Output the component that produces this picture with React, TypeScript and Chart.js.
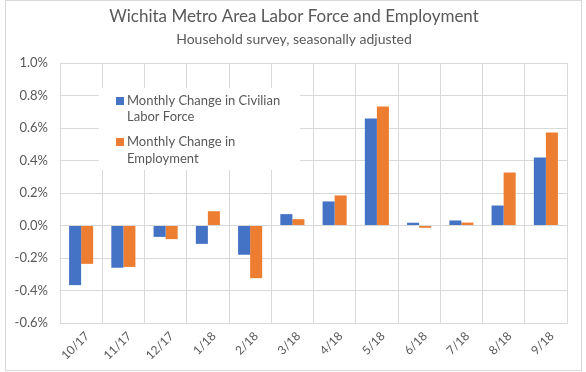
import React, { useEffect, useRef } from "react";
import { Chart, registerables } from "chart.js";

Chart.register(...registerables);

const categories = ["10/17", "11/17", "12/17", "1/18", "2/18", "3/18", "4/18", "5/18", "6/18", "7/18", "8/18", "9/18"];
const laborForceChange = [-0.367, -0.26, -0.07, -0.113, -0.18, 0.07, 0.148, 0.658, 0.017, 0.031, 0.123, 0.418];
const employmentChange = [-0.236, -0.255, -0.084, 0.088, -0.324, 0.039, 0.185, 0.732, -0.014, 0.018, 0.326, 0.572];
const yMin = -0.6;
const yMax = 1.0;
const yStep = 0.2;
const titleText = "Wichita Metro Area Labor Force and Employment";
const subtitleText = "Household survey, seasonally adjusted";
const seriesNames = ["Monthly Change in Civilian Labor Force", "Monthly Change in Employment"];
const legendLines = [["Monthly Change in Civilian", "Labor Force"], ["Monthly Change in", "Employment"]];

const BLUE = "#4472C4";
const ORANGE = "#ED7D31";
const GRID = "#D9D9D9";
const TEXT = "#595959";
const FONT = "Lato, 'Liberation Sans', sans-serif";

const decorPlugin = {
  id: "decor",
  afterDatasetsDraw(chart: any) {
    const ctx = chart.ctx;
    ctx.save();
    // legend box inside plot area
    ctx.fillStyle = "#ffffff";
    ctx.fillRect(99, 88, 201, 82);
    const colors = [BLUE, ORANGE];
    const rowsY = [[101, 117], [142, 159]];
    ctx.font = `13px ${FONT}`;
    ctx.textBaseline = "middle";
    ctx.textAlign = "left";
    legendLines.forEach((lines, i) => {
      ctx.fillStyle = colors[i];
      ctx.fillRect(116, rowsY[i][0] - 4, 8, 8);
      ctx.fillStyle = TEXT;
      lines.forEach((ln, j) => {
        ctx.fillText(ln, 127, rowsY[i][j]);
      });
    });
    ctx.restore();
  },
  afterDraw(chart: any) {
    const ctx = chart.ctx;
    ctx.save();
    ctx.fillStyle = TEXT;
    ctx.textAlign = "center";
    ctx.textBaseline = "middle";
    ctx.font = `17px ${FONT}`;
    ctx.fillText(titleText, 294, 17);
    ctx.font = `14px ${FONT}`;
    ctx.fillText(subtitleText, 294, 39);
    // outer frame
    ctx.strokeStyle = GRID;
    ctx.lineWidth = 1;
    ctx.strokeRect(5.5, 0.5, 576, 370);
    ctx.restore();
  },
};

export default function App() {
  const ref = useRef<HTMLCanvasElement | null>(null);

  useEffect(() => {
    if (!ref.current) return;
    const chart = new Chart(ref.current, {
      type: "bar",
      data: {
        labels: categories,
        datasets: [
          {
            label: seriesNames[0],
            data: laborForceChange,
            backgroundColor: BLUE,
            borderWidth: 0,
            barPercentage: 1,
            categoryPercentage: 0.57,
          },
          {
            label: seriesNames[1],
            data: employmentChange,
            backgroundColor: ORANGE,
            borderWidth: 0,
            barPercentage: 1,
            categoryPercentage: 0.57,
          },
        ],
      },
      options: {
        responsive: false,
        animation: false,
        devicePixelRatio: 1,
        layout: { padding: { left: 5, right: 19, top: 63, bottom: 0 } },
        plugins: {
          legend: { display: false },
          title: { display: false },
          tooltip: { enabled: false },
        },
        scales: {
          x: {
            grid: { color: GRID, drawTicks: false, offset: true },
            border: { color: GRID },
            ticks: {
              color: TEXT,
              font: { family: FONT, size: 12 },
              maxRotation: 45,
              minRotation: 45,
              padding: 6,
              labelOffset: 6,
            },
            afterFit: (s: any) => {
              s.height = 49;
            },
          },
          y: {
            min: yMin,
            max: yMax,
            grid: { color: GRID, drawTicks: false },
            border: { display: false },
            ticks: {
              stepSize: yStep,
              color: TEXT,
              font: { family: FONT, size: 13 },
              padding: 12,
              callback: (v: any) => Number(v).toFixed(1) + "%",
            },
            afterFit: (s: any) => {
              s.width = 55;
            },
          },
        },
      },
      plugins: [decorPlugin],
    });
    return () => chart.destroy();
  }, []);

  return (
    <div style={{ position: "fixed", left: 0, top: 0, width: 586, height: 372, background: "#fff" }}>
      <canvas ref={ref} width={586} height={372} />
    </div>
  );
}
